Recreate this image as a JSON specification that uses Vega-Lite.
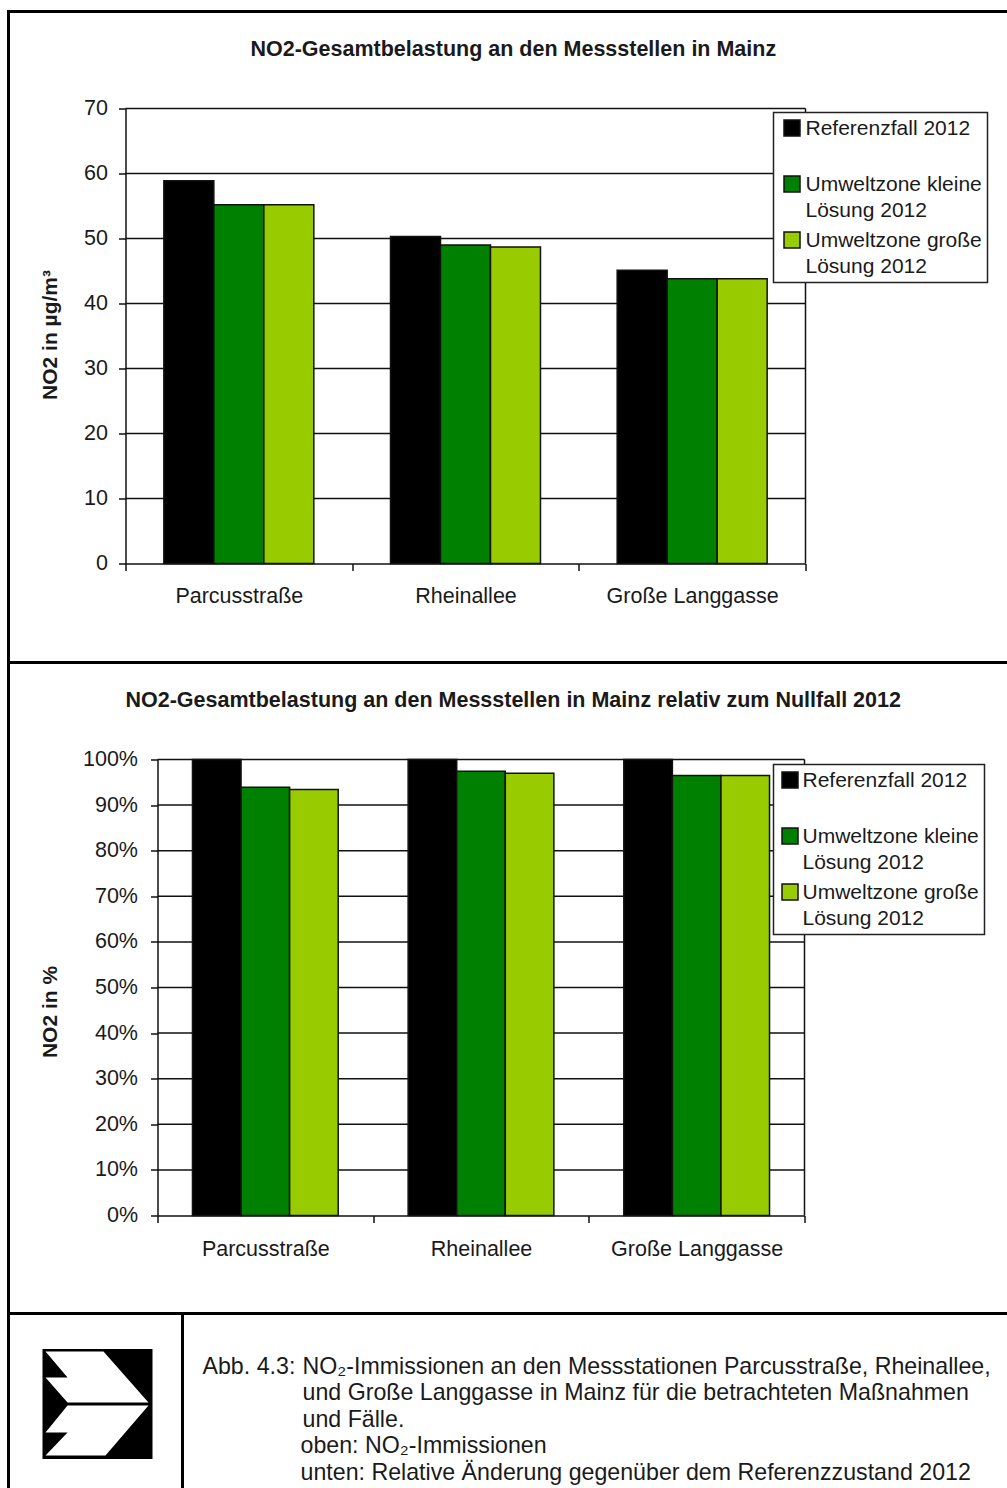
{
  "$schema": "https://vega.github.io/schema/vega-lite/v6.json",
  "padding": {"left": 6.5, "top": 9.5, "right": -4, "bottom": -5},
  "spacing": 0,
  "bounds": "flush",
  "background": "white",
  "resolve": {"scale": {"color": "independent", "xOffset": "independent"}},
  "config": {
    "view": {"stroke": "black", "strokeWidth": 3, "fill": "white"},
    "font": "Liberation Sans",
    "concat": {"spacing": 0},
    "title": {"font": "Liberation Sans", "fontSize": 21.5, "fontWeight": "bold", "color": "#1a1a1a", "anchor": "start", "frame": "group"},
    "axis": {"labelFont": "Liberation Sans", "labelFontSize": 21.5, "labelColor": "#1a1a1a", "domainColor": "#111", "tickColor": "#111", "domainWidth": 1.5, "tickWidth": 1.5, "tickSize": 7, "grid": false, "titleFont": "Liberation Sans", "titleFontSize": 21, "titleFontWeight": "bold", "titleColor": "#1a1a1a"}
  },
  "datasets": {
    "load": [
      {"station": "Parcusstraße", "series": "Referenzfall 2012", "value": 58.9},
      {"station": "Parcusstraße", "series": "Umweltzone kleine Lösung 2012", "value": 55.2},
      {"station": "Parcusstraße", "series": "Umweltzone große Lösung 2012", "value": 55.2},
      {"station": "Rheinallee", "series": "Referenzfall 2012", "value": 50.3},
      {"station": "Rheinallee", "series": "Umweltzone kleine Lösung 2012", "value": 49.0},
      {"station": "Rheinallee", "series": "Umweltzone große Lösung 2012", "value": 48.7},
      {"station": "Große Langgasse", "series": "Referenzfall 2012", "value": 45.1},
      {"station": "Große Langgasse", "series": "Umweltzone kleine Lösung 2012", "value": 43.8},
      {"station": "Große Langgasse", "series": "Umweltzone große Lösung 2012", "value": 43.8}
    ],
    "relative": [
      {"station": "Parcusstraße", "series": "Referenzfall 2012", "value": 100},
      {"station": "Parcusstraße", "series": "Umweltzone kleine Lösung 2012", "value": 93.9},
      {"station": "Parcusstraße", "series": "Umweltzone große Lösung 2012", "value": 93.4},
      {"station": "Rheinallee", "series": "Referenzfall 2012", "value": 100},
      {"station": "Rheinallee", "series": "Umweltzone kleine Lösung 2012", "value": 97.4},
      {"station": "Rheinallee", "series": "Umweltzone große Lösung 2012", "value": 97.0},
      {"station": "Große Langgasse", "series": "Referenzfall 2012", "value": 100},
      {"station": "Große Langgasse", "series": "Umweltzone kleine Lösung 2012", "value": 96.5},
      {"station": "Große Langgasse", "series": "Umweltzone große Lösung 2012", "value": 96.5}
    ],
    "gridLoad": [
      {"a": 0, "b": 1, "v": 10, "w": 10}, {"a": 0, "b": 1, "v": 20, "w": 20}, {"a": 0, "b": 1, "v": 30, "w": 30},
      {"a": 0, "b": 1, "v": 40, "w": 40}, {"a": 0, "b": 1, "v": 50, "w": 50}, {"a": 0, "b": 1, "v": 60, "w": 60},
      {"a": 0, "b": 1, "v": 70, "w": 70}, {"a": 1, "b": 1, "v": 0, "w": 70}
    ],
    "gridRelative": [
      {"a": 0, "b": 1, "v": 10, "w": 10}, {"a": 0, "b": 1, "v": 20, "w": 20}, {"a": 0, "b": 1, "v": 30, "w": 30},
      {"a": 0, "b": 1, "v": 40, "w": 40}, {"a": 0, "b": 1, "v": 50, "w": 50}, {"a": 0, "b": 1, "v": 60, "w": 60},
      {"a": 0, "b": 1, "v": 70, "w": 70}, {"a": 0, "b": 1, "v": 80, "w": 80}, {"a": 0, "b": 1, "v": 90, "w": 90},
      {"a": 0, "b": 1, "v": 100, "w": 100}, {"a": 1, "b": 1, "v": 0, "w": 100}
    ],
    "caption": [
      {"line": 1, "col": 0, "text": "Abb. 4.3:"},
      {"line": 1, "col": 1, "text": "NO₂-Immissionen an den Messstationen Parcusstraße, Rheinallee,"},
      {"line": 2, "col": 1, "text": "und Große Langgasse in Mainz für die betrachteten Maßnahmen"},
      {"line": 3, "col": 1, "text": "und Fälle."},
      {"line": 4, "col": 0.98, "text": "oben: NO₂-Immissionen"},
      {"line": 5, "col": 0.98, "text": "unten: Relative Änderung gegenüber dem Referenzzustand 2012"}
    ],
    "emblem": [{"u": 0.5115, "v": 0.497}]
  },
  "vconcat": [
    {
      "width": 1003,
      "height": 651,
      "title": {"text": "NO2-Gesamtbelastung an den Messstellen in Mainz", "dx": 242, "offset": -49},
      "resolve": {"scale": {"x": "independent"}},
      "layer": [
        {
          "data": {"name": "gridLoad"},
          "mark": {"type": "rule", "color": "#111", "strokeWidth": 1.5},
          "encoding": {
            "x": {"field": "a", "type": "quantitative", "scale": {"domain": [0, 1], "range": [117, 797]}, "axis": null},
            "x2": {"field": "b"},
            "y": {"field": "v", "type": "quantitative", "title": "NO2 in µg/m³",
              "scale": {"domain": [0, 70], "range": [552, 97], "nice": false},
              "axis": {"offset": -117, "values": [0, 10, 20, 30, 40, 50, 60, 70], "labelPadding": 11, "titleX": -65, "titleY": 323}},
            "y2": {"field": "w"}
          }
        },
        {
          "data": {"name": "load"},
          "mark": {"type": "bar", "stroke": "#111", "strokeWidth": 1.5},
          "encoding": {
            "x": {"field": "station", "type": "nominal", "sort": null, "title": null,
              "scale": {"range": [117, 797], "paddingInner": 0, "paddingOuter": 0},
              "axis": {"labelAngle": 0, "tickBand": "extent", "offset": -99, "labelPadding": 15}},
            "xOffset": {"field": "series", "type": "nominal", "sort": null, "scale": {"paddingInner": 0, "paddingOuter": 0.767}},
            "y": {"field": "value", "type": "quantitative"},
            "color": {"field": "series", "type": "nominal", "sort": null,
              "scale": {"domain": ["Referenzfall 2012", "Umweltzone kleine Lösung 2012", "Umweltzone große Lösung 2012"], "range": ["#000000", "#008000", "#99CC00"]},
              "legend": {"title": null, "orient": "none", "legendX": 765, "legendY": 101, "fillColor": "white", "strokeColor": "#222", "padding": 5,
                "symbolType": "square", "symbolSize": 256, "symbolOffset": 3, "symbolStrokeColor": "#111", "symbolStrokeWidth": 1.5, "labelFont": "Liberation Sans", "labelFontSize": 21, "labelColor": "#1a1a1a", "labelLimit": 300, "labelOffset": 3, "rowPadding": 7, "symbolBaseline": "top", "labelBaseline": "top",
                "labelExpr": "datum.label == 'Referenzfall 2012' ? ['Referenzfall 2012', ' '] : [slice(datum.label, 0, -12), 'Lösung 2012']",
                "encode": {"labels": {"update": {"lineHeight": {"value": 26}, "dy": {"value": -10}}}, "legend": {"update": {"strokeWidth": {"value": 1.5}}}}}}
          }
        }
      ]
    },
    {
      "width": 1003,
      "height": 651,
      "title": {"text": "NO2-Gesamtbelastung an den Messstellen in Mainz relativ zum Nullfall 2012", "dx": 117, "offset": -49},
      "resolve": {"scale": {"x": "independent"}},
      "layer": [
        {
          "data": {"name": "gridRelative"},
          "mark": {"type": "rule", "color": "#111", "strokeWidth": 1.5},
          "encoding": {
            "x": {"field": "a", "type": "quantitative", "scale": {"domain": [0, 1], "range": [149, 796]}, "axis": null},
            "x2": {"field": "b"},
            "y": {"field": "v", "type": "quantitative", "title": "NO2 in %",
              "scale": {"domain": [0, 100], "range": [553, 97], "nice": false},
              "axis": {"offset": -149, "values": [0, 10, 20, 30, 40, 50, 60, 70, 80, 90, 100], "labelExpr": "datum.value + '%'", "labelPadding": 13, "titleX": -97, "titleY": 349}},
            "y2": {"field": "w"}
          }
        },
        {
          "data": {"name": "relative"},
          "mark": {"type": "bar", "stroke": "#111", "strokeWidth": 1.5},
          "encoding": {
            "x": {"field": "station", "type": "nominal", "sort": null, "title": null,
              "scale": {"range": [149, 796], "paddingInner": 0, "paddingOuter": 0},
              "axis": {"labelAngle": 0, "tickBand": "extent", "offset": -98, "labelPadding": 16}},
            "xOffset": {"field": "series", "type": "nominal", "sort": null, "scale": {"paddingInner": 0, "paddingOuter": 0.72}},
            "y": {"field": "value", "type": "quantitative"},
            "color": {"field": "series", "type": "nominal", "sort": null,
              "scale": {"domain": ["Referenzfall 2012", "Umweltzone kleine Lösung 2012", "Umweltzone große Lösung 2012"], "range": ["#000000", "#008000", "#99CC00"]},
              "legend": {"title": null, "orient": "none", "legendX": 765, "legendY": 102, "fillColor": "white", "strokeColor": "#222", "padding": 5,
                "symbolType": "square", "symbolSize": 256, "symbolOffset": 1, "symbolStrokeColor": "#111", "symbolStrokeWidth": 1.5, "labelFont": "Liberation Sans", "labelFontSize": 21, "labelColor": "#1a1a1a", "labelLimit": 300, "labelOffset": 2, "rowPadding": 7, "symbolBaseline": "top", "labelBaseline": "top",
                "labelExpr": "datum.label == 'Referenzfall 2012' ? ['Referenzfall 2012', ' '] : [slice(datum.label, 0, -12), 'Lösung 2012']",
                "encode": {"labels": {"update": {"lineHeight": {"value": 26}, "dy": {"value": -10}}}, "legend": {"update": {"strokeWidth": {"value": 1.5}}}}}}
          }
        }
      ]
    },
    {
      "spacing": 0,
      "bounds": "flush",
      "hconcat": [
        {
          "width": 174,
          "height": 180,
          "data": {"name": "emblem"},
          "encoding": {
            "x": {"field": "u", "type": "quantitative", "scale": {"domain": [0, 1]}, "axis": null},
            "y": {"field": "v", "type": "quantitative", "scale": {"domain": [0, 1]}, "axis": null}
          },
          "layer": [
            {"mark": {"type": "point", "shape": "square", "filled": true, "fill": "black", "opacity": 1, "size": 12100, "stroke": null}},
            {"mark": {"type": "point", "filled": true, "fill": "white", "opacity": 1, "size": 12100, "stroke": null,
              "shape": "M-0.945,-0.955L0.109,-0.955L0.927,-0.027L-0.545,-0.027L-0.945,-0.482L-0.545,-0.482ZM-0.545,0.027L0.927,0.027L0.145,0.936L-0.945,0.936L-0.545,0.518L-0.945,0.518Z"}}
          ]
        },
        {
          "width": 829,
          "height": 180,
          "data": {"name": "caption"},
          "mark": {"type": "text", "align": "left", "baseline": "middle", "font": "Liberation Sans", "fontSize": 23.2, "color": "#1a1a1a"},
          "encoding": {
            "x": {"field": "col", "type": "quantitative", "scale": {"domain": [0, 1], "range": [20, 120]}, "axis": null},
            "y": {"field": "line", "type": "quantitative", "scale": {"domain": [1, 5], "range": [53, 159], "nice": false, "zero": false}, "axis": null},
            "text": {"field": "text", "type": "nominal"}
          }
        }
      ]
    }
  ]
}
